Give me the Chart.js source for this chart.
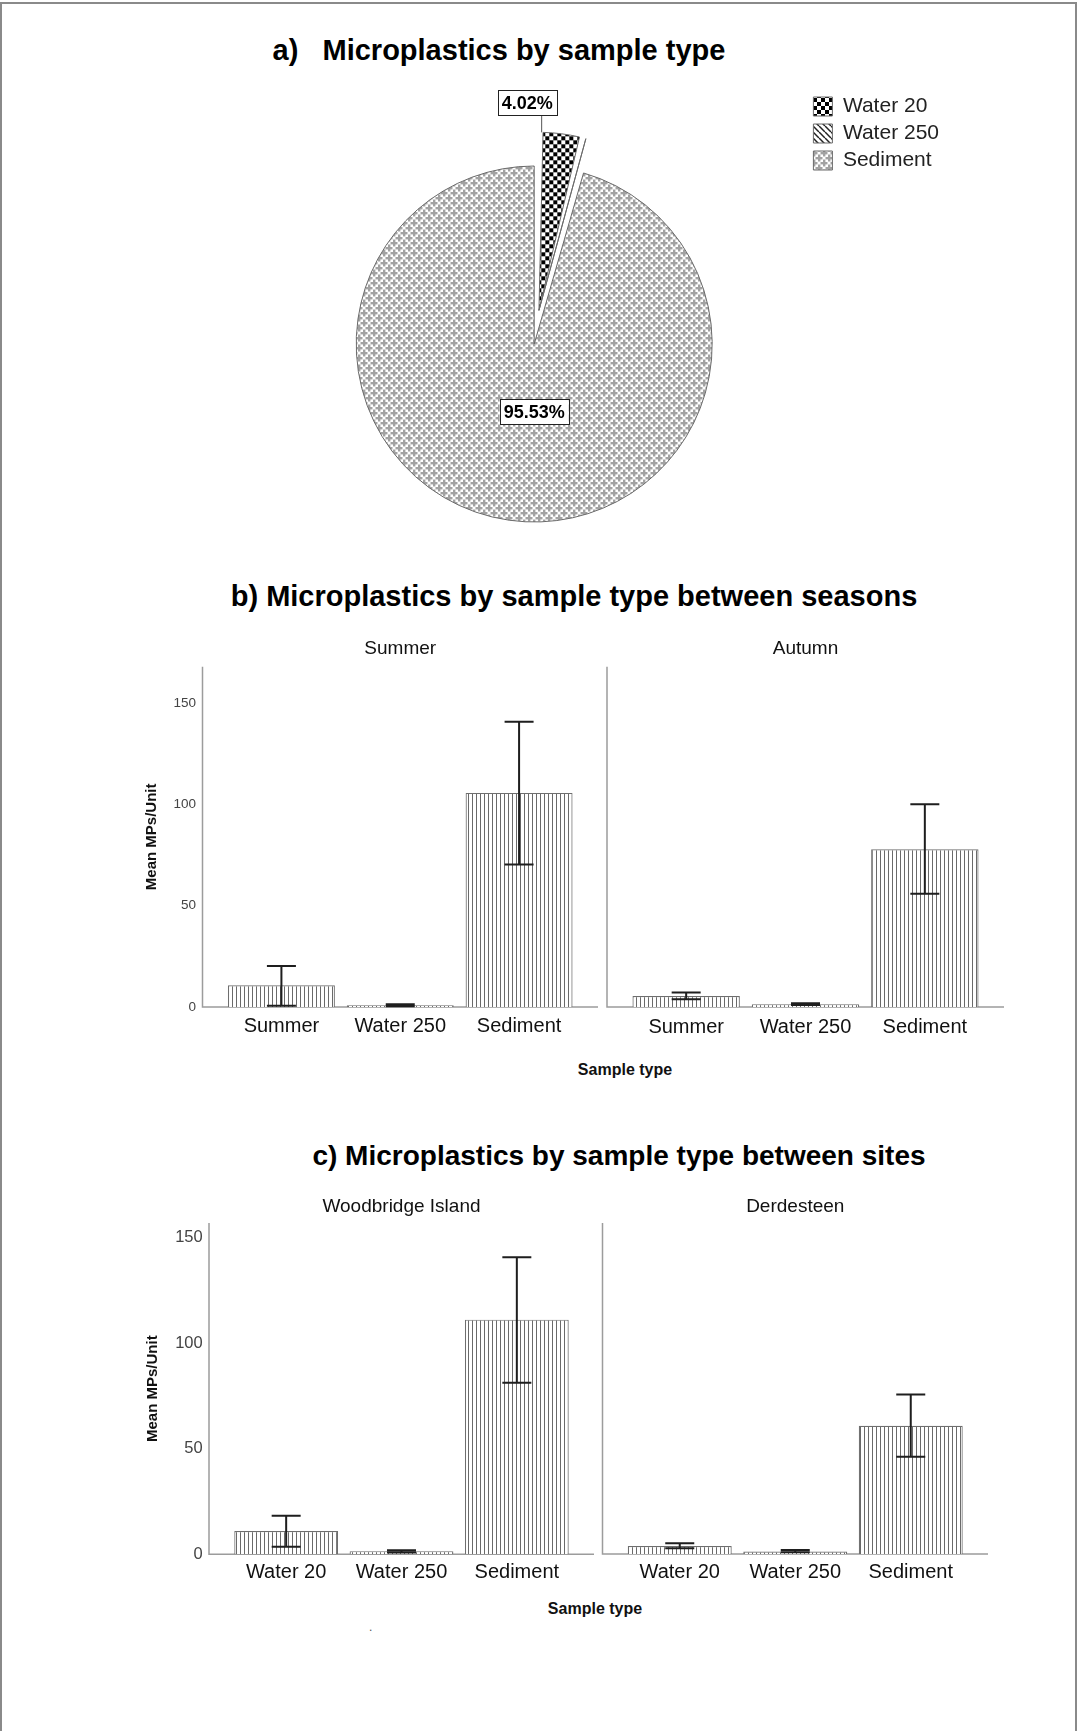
<!DOCTYPE html>
<html>
<head>
<meta charset="utf-8">
<script src="https://cdn.jsdelivr.net/npm/chart.js@4.4.0/dist/chart.umd.min.js"></script>
<style>
  html, body { margin: 0; padding: 0; background: #fff; }
  body { position: relative; width: 1077px; height: 1731px; overflow: hidden; font-family: Arial, "Liberation Sans", sans-serif; }
  #frame { position: absolute; left: 0; top: 2px; width: 1073px; height: 1760px; border: 2px solid #8a8a8a; }
  .title { position: absolute; width: 800px; text-align: center; font-weight: bold; color: #000; white-space: pre; }
  .axt { position: absolute; width: 200px; text-align: center; font-weight: bold; font-size: 16px; line-height: 16px; color: #111; }
  canvas { position: absolute; }
</style>
</head>
<body>
<div id="frame"></div>
<div class="title" style="left:99px;top:36px;font-size:29px;line-height:29px;">a)   Microplastics by sample type</div>
<div class="title" style="left:174px;top:582px;font-size:29px;line-height:29px;">b) Microplastics by sample type between seasons</div>
<div class="title" style="left:219px;top:1142px;font-size:28px;line-height:28px;">c) Microplastics by sample type between sites</div>
<div class="axt" style="left:525px;top:1062px;">Sample type</div>
<div class="axt" style="left:495px;top:1601px;">Sample type</div>
<div style="position:absolute;left:369px;top:1620px;font-size:12px;color:#555;">.</div>

<canvas id="pie" width="700" height="508" style="left:261px;top:90px;"></canvas>
<canvas id="bSummer" width="500" height="421" style="left:100px;top:620px;"></canvas>
<canvas id="bAutumn" width="420" height="420" style="left:600px;top:620px;"></canvas>
<canvas id="cWood" width="500" height="420" style="left:100px;top:1170px;"></canvas>
<canvas id="cDerd" width="420" height="417" style="left:600px;top:1170px;"></canvas>

<script>
// ---------------- DATA ----------------
const pieLabels = ['Water 20', 'Water 250', 'Sediment'];
const pieValues = [4.02, 0.45, 95.53];

const seasonCategories = ['Summer', 'Water 250', 'Sediment'];
const summerMeans = [10.7, 0.8, 105.7];
const summerLow   = [0.6, 0.3, 70.4];
const summerHigh  = [20.2, 1.3, 140.8];
const autumnMeans = [5.4, 1.4, 77.9];
const autumnLow   = [3.8, 1.0, 55.9];
const autumnHigh  = [7.1, 1.8, 100.1];

const siteCategories = ['Water 20', 'Water 250', 'Sediment'];
const woodbridgeMeans = [11.0, 1.5, 111.2];
const woodbridgeLow   = [3.6, 0.9, 81.3];
const woodbridgeHigh  = [18.3, 1.9, 140.8];
const derdesteenMeans = [3.8, 1.2, 60.8];
const derdesteenLow   = [2.7, 0.8, 46.1];
const derdesteenHigh  = [5.1, 1.9, 75.6];

const facetTitlesSeason = ['Summer', 'Autumn'];
const facetTitlesSite = ['Woodbridge Island', 'Derdesteen'];
const yAxisTitle = 'Mean MPs/Unit';

// ---------------- STYLE HELPERS ----------------
const FONT = 'Arial, "Liberation Sans", sans-serif';
Chart.defaults.font.family = FONT;
Chart.defaults.animation = false;

function tile(w, h, draw) {
  const c = document.createElement('canvas');
  c.width = w; c.height = h;
  const g = c.getContext('2d');
  g.fillStyle = '#fff'; g.fillRect(0, 0, w, h);
  draw(g);
  return document.createElement('canvas').getContext('2d').createPattern(c, 'repeat');
}
const checkerPat = tile(8, 8, g => { g.fillStyle = '#000'; g.fillRect(0, 0, 4, 4); g.fillRect(4, 4, 4, 4); });
const diagPat = tile(6, 6, g => {
  g.strokeStyle = '#222'; g.lineWidth = 1.5;
  for (const k of [-6, 0, 6]) { g.beginPath(); g.moveTo(k, 0); g.lineTo(k + 6, 6); g.stroke(); }
});
const plusPat = tile(10, 10, g => {
  g.fillStyle = '#a2a2a2';
  const plus = (cx, cy) => {
    for (const dx of [-10, 0, 10]) for (const dy of [-10, 0, 10]) {
      g.fillRect(cx - 3.5 + dx, cy - 1 + dy, 7, 2.4);
      g.fillRect(cx - 1 + dx, cy - 3.5 + dy, 2.4, 7);
    }
  };
  plus(3, 3); plus(8, 8);
});
const stripePat = tile(4, 4, g => { g.fillStyle = '#6a6a6a'; g.fillRect(0, 0, 1, 4); });

// ---------------- PIE ----------------
// Chart.js translates an exploded arc by offset/4 along its own bisector and grows
// its radius by (offset/4)*(1-sin(circumference)). Keep the drawn radius equal to the
// pie's, and move the exploded slices together as one group (as the original does).
function arcFix(arc) {
  const c = Math.abs(arc.endAngle - arc.startAngle);
  return 1 - Math.sin(Math.min(Math.PI, c));
}
const pieExplodeFix = {
  id: 'pieExplodeFix',
  beforeDatasetsDraw(chart) {
    const meta = chart.getDatasetMeta(0);
    const ctrl = meta.controller;
    const R = ctrl.outerRadius;
    const a = chart.chartArea;
    const cx0 = (a.left + a.right) / 2 + (ctrl.offsetX || 0);
    const cy0 = (a.top + a.bottom) / 2 + (ctrl.offsetY || 0);
    const exploded = meta.data.filter(arc => (arc.options.offset || 0) > 0);
    if (!exploded.length) return;
    const gMid = (Math.min(...exploded.map(e => e.startAngle)) + Math.max(...exploded.map(e => e.endAngle))) / 2;
    meta.data.forEach(arc => {
      const t = (arc.options.offset || 0) / 4;
      const mid = (arc.startAngle + arc.endAngle) / 2;
      arc.outerRadius = R - t * arcFix(arc);
      arc.x = cx0 + (Math.cos(gMid) - Math.cos(mid)) * t;
      arc.y = cy0 + (Math.sin(gMid) - Math.sin(mid)) * t;
    });
  }
};

const pieLabelPlugin = {
  id: 'pieLabelPlugin',
  afterDatasetsDraw(chart, args, opts) {
    const ctx = chart.ctx;
    const meta = chart.getDatasetMeta(0);
    const R = meta.controller.outerRadius;
    ctx.save();
    ctx.font = 'bold 18px ' + FONT;
    ctx.textAlign = 'center';
    ctx.textBaseline = 'middle';
    meta.data.forEach((arc, i) => {
      const mode = opts.modes[i];
      if (!mode) return;
      const p = arc.getProps(['x', 'y', 'startAngle', 'endAngle'], true);
      const t = (arc.options.offset || 0) / 4;
      const mid = (p.startAngle + p.endAngle) / 2;
      const cx = p.x + Math.cos(mid) * t, cy = p.y + Math.sin(mid) * t;
      const text = pieValues[i].toFixed(2) + '%';
      const tw = ctx.measureText(text).width;
      const bw = tw + 8, bh = 25;
      let bxc, byc;
      if (mode === 'outside') {
        const a = p.startAngle + (p.endAngle - p.startAngle) * 0.06;
        const ax = cx + Math.cos(a) * R, ay = cy + Math.sin(a) * R;
        ctx.strokeStyle = '#555'; ctx.lineWidth = 1;
        ctx.beginPath(); ctx.moveTo(ax, ay); ctx.lineTo(ax, ay - 17); ctx.stroke();
        bxc = ax - 14.5; byc = ay - 17 - bh / 2;
      } else {
        bxc = cx; byc = cy + R * 0.38;
      }
      ctx.fillStyle = '#fff';
      ctx.fillRect(bxc - bw / 2, byc - bh / 2, bw, bh);
      ctx.strokeStyle = '#222'; ctx.lineWidth = 1;
      ctx.strokeRect(Math.round(bxc - bw / 2) + 0.5, Math.round(byc - bh / 2) + 0.5, Math.round(bw), bh);
      ctx.fillStyle = '#000';
      ctx.fillText(text, bxc, byc + 1);
    });
    ctx.restore();
  }
};

new Chart(document.getElementById('pie'), {
  type: 'pie',
  data: {
    labels: pieLabels,
    datasets: [{
      data: pieValues,
      backgroundColor: [checkerPat, diagPat, plusPat],
      borderColor: '#6a6a6a',
      borderWidth: 1,
      offset: [136, 136, 0],
      hoverOffset: 0,
      radius: 178
    }]
  },
  options: {
    responsive: false,
    animation: false,
    events: [],
    layout: { padding: { left: 0, right: 12, top: 0, bottom: 0 } },
    plugins: {
      tooltip: { enabled: false },
      legend: {
        position: 'right',
        align: 'start',
        labels: { boxWidth: 19, boxHeight: 19, padding: 6, color: '#222', font: { size: 21 } }
      },
      pieLabelPlugin: { modes: ['outside', null, 'inside'] }
    }
  },
  plugins: [pieExplodeFix, pieLabelPlugin]
});

// ---------------- BAR FACETS ----------------
const facetDecor = {
  id: 'facetDecor',
  beforeDatasetsDraw(chart, args, opts) {
    const ctx = chart.ctx;
    const a = chart.chartArea;
    const pad = opts.axisPad;
    ctx.save();
    ctx.strokeStyle = '#9c9c9c'; ctx.lineWidth = 1.5;
    ctx.beginPath();
    ctx.moveTo(a.left - pad, a.top);
    ctx.lineTo(a.left - pad, a.bottom);
    ctx.lineTo(a.right + pad, a.bottom);
    ctx.stroke();
    ctx.restore();
  },
  afterDatasetsDraw(chart, args, opts) {
    const ctx = chart.ctx;
    ctx.save();
    const ys = chart.scales.y;
    const meta = chart.getDatasetMeta(0);
    ctx.strokeStyle = '#1e1e1e'; ctx.lineWidth = 2;
    meta.data.forEach((bar, i) => {
      const lo = ys.getPixelForValue(opts.low[i]);
      const hi = ys.getPixelForValue(opts.high[i]);
      const cap = 14.5;
      ctx.beginPath();
      ctx.moveTo(bar.x, lo); ctx.lineTo(bar.x, hi);
      ctx.moveTo(bar.x - cap, lo); ctx.lineTo(bar.x + cap, lo);
      ctx.moveTo(bar.x - cap, hi); ctx.lineTo(bar.x + cap, hi);
      ctx.stroke();
    });
    ctx.restore();
  }
};

function facet(id, cfg) {
  const yScale = cfg.showY ? {
    min: 0, max: cfg.yMax,
    afterFit: s => { s.width = cfg.yWidth; },
    grid: { display: false, drawTicks: false },
    border: { display: false },
    ticks: { stepSize: 50, includeBounds: false, padding: cfg.tickPad, color: '#444', font: { size: cfg.tickSize } },
    title: { display: true, text: yAxisTitle, color: '#111', font: { size: 15, weight: 'bold' }, padding: { top: cfg.yTitlePad, bottom: 0 } }
  } : { display: false, min: 0, max: cfg.yMax };

  new Chart(document.getElementById(id), {
    type: 'bar',
    data: {
      labels: cfg.labels,
      datasets: [{
        data: cfg.means,
        backgroundColor: stripePat,
        borderColor: '#6e6e6e',
        borderWidth: 1.2,
        barPercentage: 0.9,
        categoryPercentage: 1.0
      }]
    },
    options: {
      responsive: false,
      animation: false,
      events: [],
      layout: { padding: cfg.pad },
      plugins: {
        legend: { display: false },
        tooltip: { enabled: false },
        title: { display: true, text: cfg.title, fullSize: false, color: '#111', font: { size: 19, weight: 'normal' }, padding: cfg.titlePad },
        facetDecor: { low: cfg.low, high: cfg.high, axisPad: 19.5 }
      },
      scales: {
        x: {
          afterFit: s => { s.height = 33; },
          grid: { display: false, drawTicks: false },
          border: { display: false },
          ticks: { padding: cfg.xPad, color: '#111', font: { size: 20 }, maxRotation: 0, autoSkip: false }
        },
        y: yScale
      }
    },
    plugins: [facetDecor]
  });
}

facet('bSummer', { labels: seasonCategories, means: summerMeans, low: summerLow, high: summerHigh,
  title: facetTitlesSeason[0], yMax: 168, showY: true, yWidth: 122, tickPad: 26, tickSize: 13.5, yTitlePad: 42.7,
  pad: { left: 0, right: 21.5, top: 0, bottom: 0 }, titlePad: { top: 17, bottom: 7 }, xPad: 8 });
facet('bAutumn', { labels: seasonCategories, means: autumnMeans, low: autumnLow, high: autumnHigh,
  title: facetTitlesSeason[1], yMax: 168, showY: false,
  pad: { left: 26.5, right: 35.5, top: 0, bottom: 0 }, titlePad: { top: 17, bottom: 7 }, xPad: 8 });
facet('cWood', { labels: siteCategories, means: woodbridgeMeans, low: woodbridgeLow, high: woodbridgeHigh,
  title: facetTitlesSite[0], yMax: 157, showY: true, yWidth: 128.5, tickPad: 25.8, tickSize: 16.5, yTitlePad: 44,
  pad: { left: 0, right: 25.5, top: 0, bottom: 0 }, titlePad: { top: 25.1, bottom: 5.1 }, xPad: 6 });
facet('cDerd', { labels: siteCategories, means: derdesteenMeans, low: derdesteenLow, high: derdesteenHigh,
  title: facetTitlesSite[1], yMax: 157, showY: false,
  pad: { left: 22, right: 51.5, top: 0, bottom: 0 }, titlePad: { top: 25.1, bottom: 5.1 }, xPad: 6 });
</script>
</body>
</html>
